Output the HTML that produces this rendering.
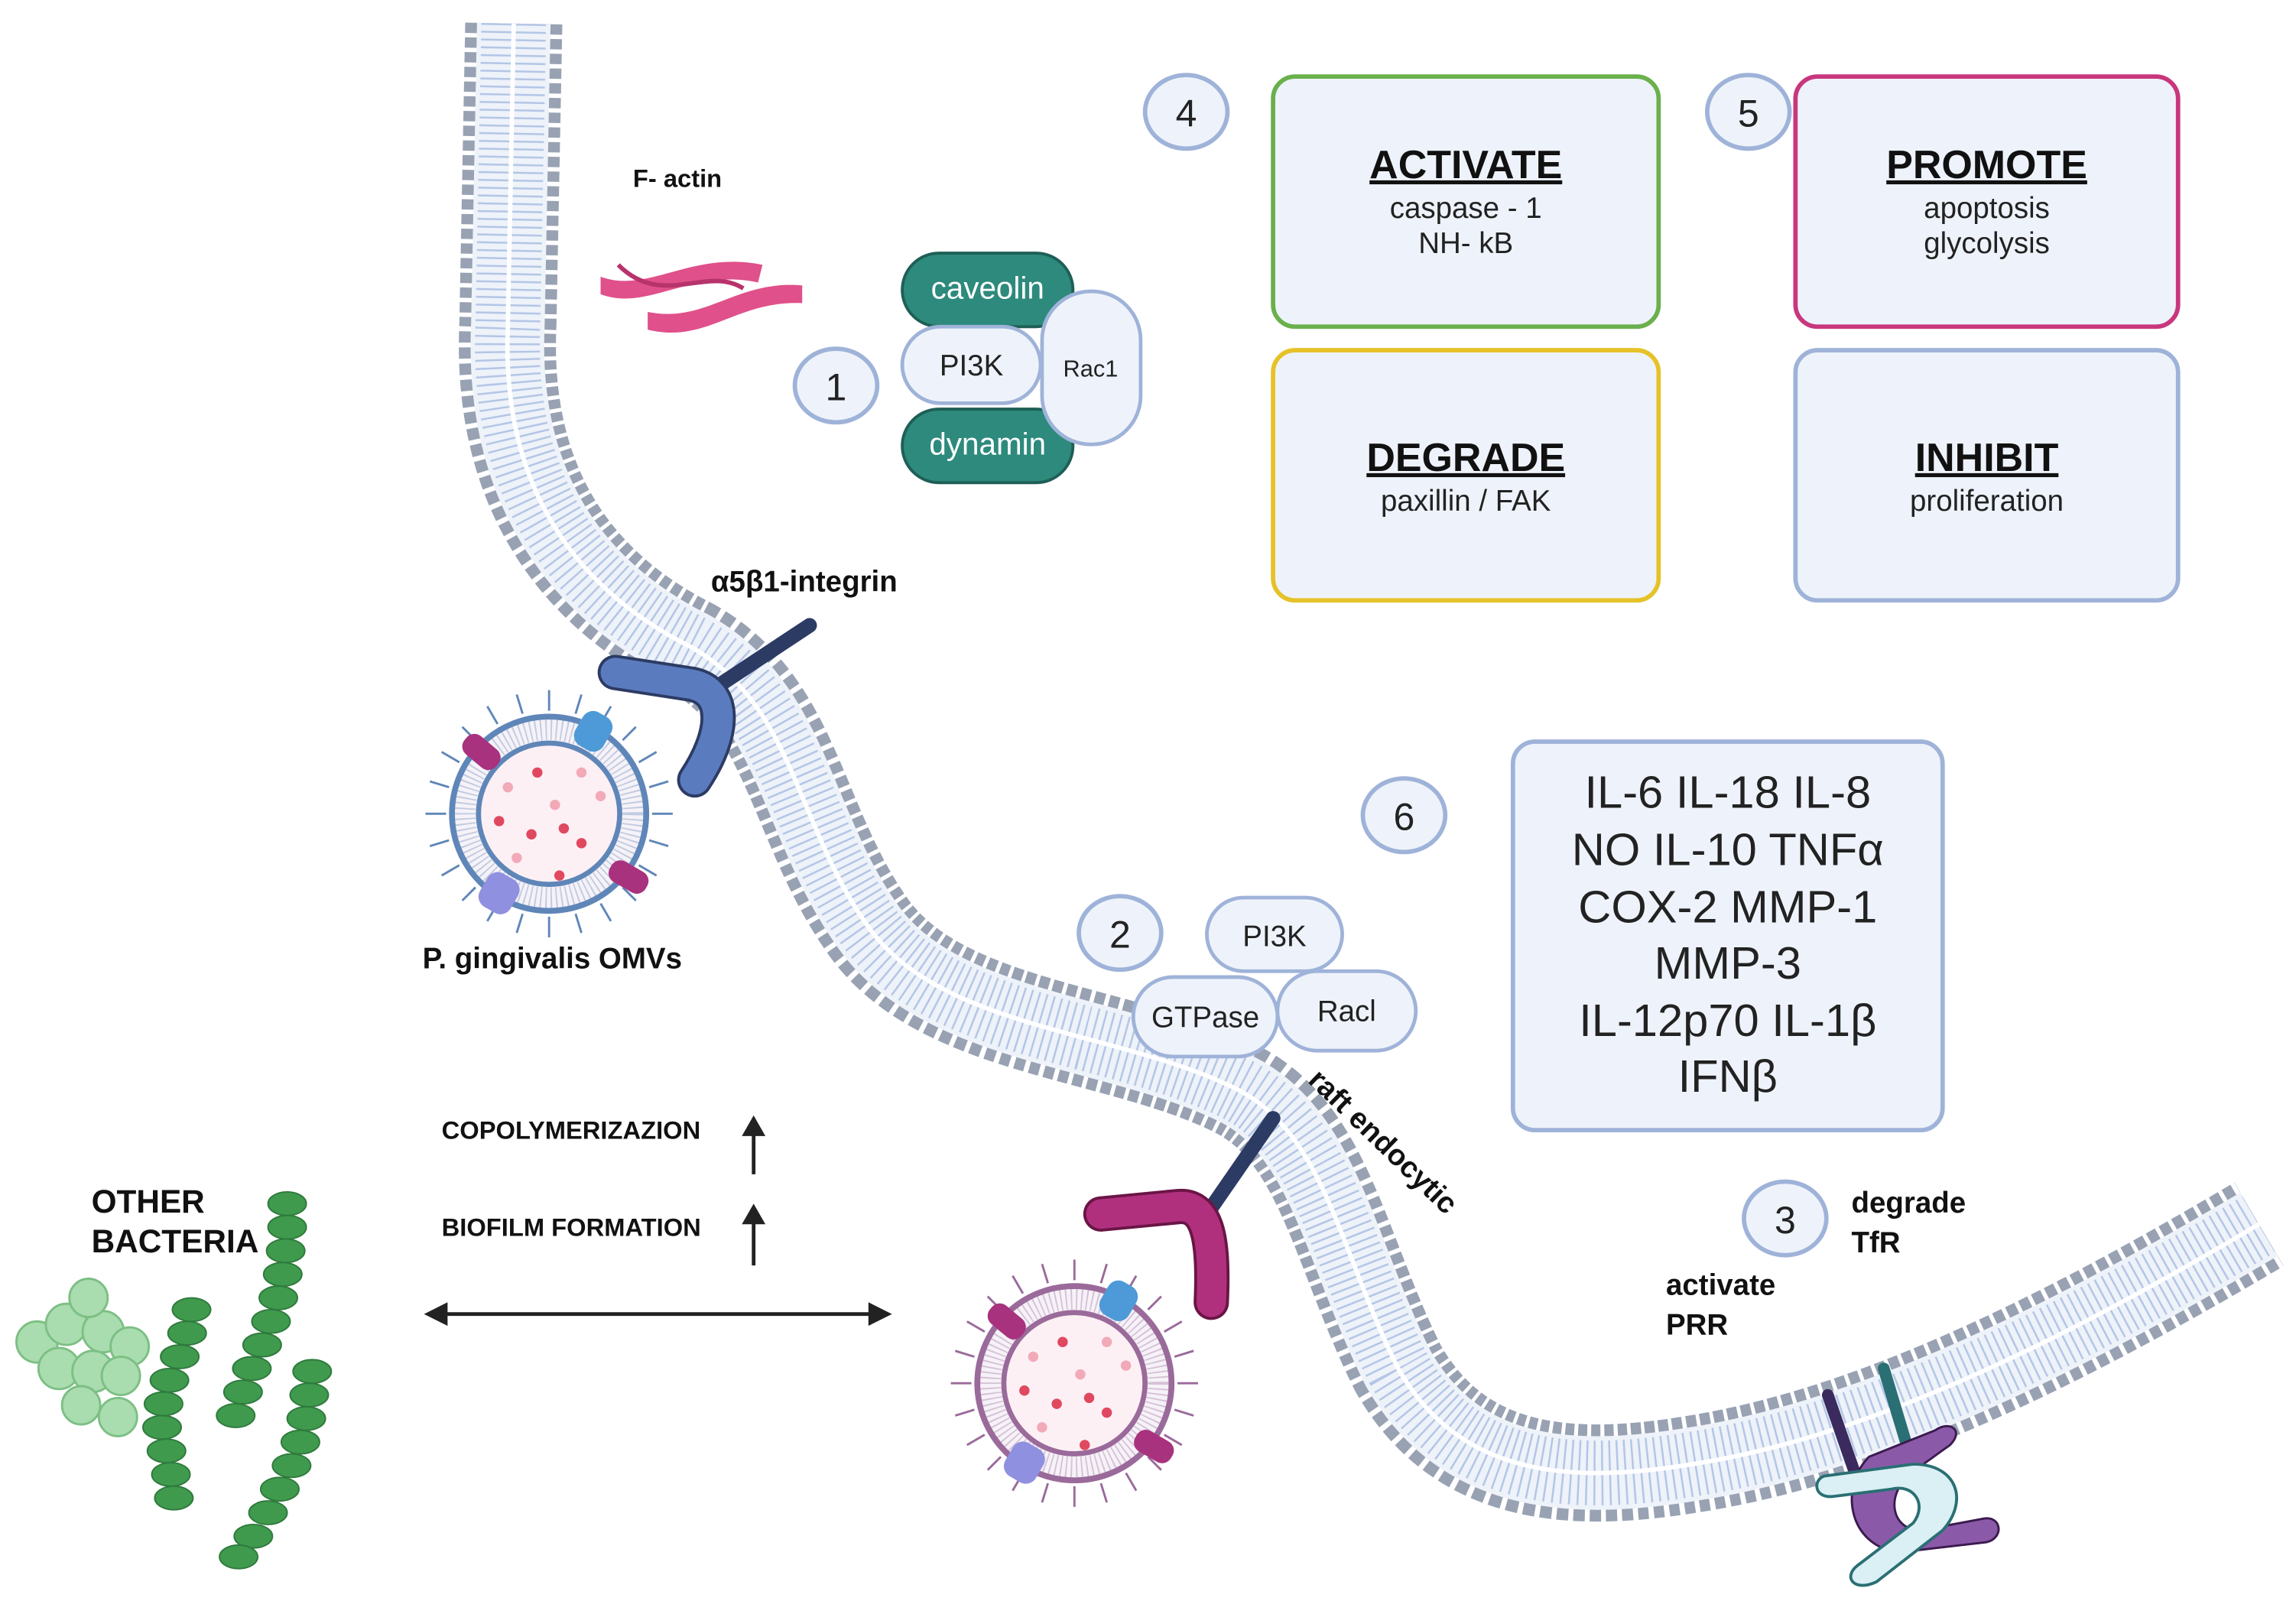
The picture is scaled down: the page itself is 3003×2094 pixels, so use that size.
<!DOCTYPE html>
<html><head><meta charset="utf-8"><style>
html,body{margin:0;padding:0;background:#fff}
svg{display:block}
text{font-family:"Liberation Sans",sans-serif}
.b{font-weight:bold;fill:#111}
</style></head><body>
<svg width="3003" height="2094" viewBox="0 0 1560 1088" xmlns="http://www.w3.org/2000/svg">
<defs>
<path id="mem" d="M349,16 L345,220 C340,330 390,400 470,440 C540,480 540,560 590,630 C640,700 760,700 840,740 C900,770 910,850 950,930 C990,1000 1060,1010 1150,995 C1280,975 1420,900 1535,832"/>
<symbol id="omv" viewBox="-90 -90 180 180" overflow="visible">
  <g stroke="currentColor" stroke-width="1.5" fill="none">
    <path d="M0,-70 L0,-84 M35,-61 L42,-73 M61,-35 L73,-42 M70,0 L84,0 M61,35 L73,42 M35,61 L42,73 M0,70 L0,84 M-35,61 L-42,73 M-61,35 L-73,42 M-70,0 L-84,0 M-61,-35 L-73,-42 M-35,-61 L-42,-73 M18,-68 L22,-81 M50,-50 L59,-59 M68,-18 L81,-22 M68,18 L81,22 M50,50 L59,59 M18,68 L22,81 M-18,68 L-22,81 M-50,50 L-59,59 M-68,18 L-81,22 M-68,-18 L-81,-22 M-50,-50 L-59,-59 M-18,-68 L-22,-81"/>
  </g>
  <circle r="66" fill="#f6f2f8" stroke="currentColor" stroke-width="4"/>
  <circle r="57" fill="none" stroke="currentColor" stroke-opacity=".35" stroke-width="14" stroke-dasharray="1 2.5"/>
  <circle r="48" fill="#fdf0f5" stroke="currentColor" stroke-width="3.5"/>
  <g fill="#e0485f"><circle cx="-8" cy="-28" r="3.5"/><circle cx="-34" cy="5" r="3.5"/><circle cx="-12" cy="14" r="3.5"/><circle cx="10" cy="10" r="3.5"/><circle cx="22" cy="20" r="3.5"/><circle cx="7" cy="42" r="3.5"/></g>
  <g fill="#f2a9b8"><circle cx="22" cy="-28" r="3.5"/><circle cx="-28" cy="-18" r="3.5"/><circle cx="4" cy="-6" r="3.5"/><circle cx="35" cy="-12" r="3.5"/><circle cx="-22" cy="30" r="3.5"/></g>
  <rect x="-14" y="-8" width="28" height="16" rx="7" fill="#a8327e" transform="translate(-46,-42) rotate(40)"/>
  <rect x="-14" y="-8" width="28" height="16" rx="7" fill="#a8327e" transform="translate(54,43) rotate(30)"/>
  <rect x="-13" y="-11" width="26" height="22" rx="8" fill="#4e9ad8" transform="translate(30,-56) rotate(-60)"/>
  <rect x="-13" y="-12" width="26" height="24" rx="8" fill="#9090e0" transform="translate(-34,54) rotate(-60)"/>
</symbol>
</defs>

<!-- membrane -->
<g fill="none" stroke-linecap="butt">
<use href="#mem" stroke="#98a2b3" stroke-width="66" stroke-dasharray="7 3"/>
<use href="#mem" stroke="#eef2f9" stroke-width="50"/>
<use href="#mem" stroke="#b3c6e6" stroke-width="44" stroke-dasharray="1.3 4"/>
<use href="#mem" stroke="#fff" stroke-width="3"/>
</g>

<!-- F-actin -->
<text x="430" y="127" class="b" font-size="17">F- actin</text>
<path d="M408,188 C440,200 470,170 518,180 L515,192 C470,182 440,212 408,200 Z" fill="#e0508a"/>
<path d="M440,212 C480,220 500,190 545,194 L545,206 C500,204 480,234 440,224 Z" fill="#e0508a"/>
<path d="M420,180 C450,210 480,180 505,196" stroke="#b7336b" stroke-width="3" fill="none"/>

<!-- group 1 -->
<rect x="613" y="172" width="116" height="50" rx="25" fill="#2d8a7c" stroke="#1e5f56" stroke-width="2"/>
<text x="671" y="203" text-anchor="middle" fill="#fff" font-size="21">caveolin</text>
<rect x="613" y="278" width="116" height="50" rx="25" fill="#2d8a7c" stroke="#1e5f56" stroke-width="2"/>
<text x="671" y="309" text-anchor="middle" fill="#fff" font-size="21">dynamin</text>
<rect x="613" y="222" width="94" height="52" rx="26" fill="#eef3fb" stroke="#9fb3d9" stroke-width="2.5"/>
<text x="660" y="255" text-anchor="middle" fill="#222" font-size="20">PI3K</text>
<rect x="708" y="198" width="67" height="104" rx="33" fill="#eef3fb" stroke="#9fb3d9" stroke-width="2.5"/>
<text x="741" y="256" text-anchor="middle" fill="#222" font-size="16">Rac1</text>

<!-- number circles -->
<g fill="#eef3fb" stroke="#9fb3d9" stroke-width="3">
<ellipse cx="806" cy="76" rx="28" ry="25"/><ellipse cx="1188" cy="76" rx="28" ry="25"/>
<ellipse cx="568" cy="262" rx="28" ry="25"/><ellipse cx="954" cy="554" rx="28" ry="25"/>
<ellipse cx="761" cy="634" rx="28" ry="25"/><ellipse cx="1213" cy="828" rx="28" ry="25"/>
</g>
<g font-size="26" text-anchor="middle" fill="#222">
<text x="806" y="86">4</text><text x="1188" y="86">5</text><text x="568" y="272">1</text>
<text x="954" y="564">6</text><text x="761" y="644">2</text><text x="1213" y="838">3</text>
</g>

<!-- boxes -->
<rect x="865" y="52" width="262" height="170" rx="15" fill="#eef3fb" stroke="#6ab04c" stroke-width="3"/>
<rect x="1220" y="52" width="260" height="170" rx="15" fill="#eef3fb" stroke="#c8377e" stroke-width="3"/>
<rect x="865" y="238" width="262" height="170" rx="15" fill="#eef3fb" stroke="#e6c229" stroke-width="3"/>
<rect x="1220" y="238" width="260" height="170" rx="15" fill="#eef3fb" stroke="#9fb3d9" stroke-width="3"/>
<g text-anchor="middle" fill="#222">
<text x="996" y="121" class="b" font-size="27" text-decoration="underline">ACTIVATE</text>
<text x="996" y="148" font-size="20">caspase - 1</text><text x="996" y="172" font-size="20">NH- kB</text>
<text x="1350" y="121" class="b" font-size="27" text-decoration="underline">PROMOTE</text>
<text x="1350" y="148" font-size="20">apoptosis</text><text x="1350" y="172" font-size="20">glycolysis</text>
<text x="996" y="320" class="b" font-size="27" text-decoration="underline">DEGRADE</text>
<text x="996" y="347" font-size="20">paxillin / FAK</text>
<text x="1350" y="320" class="b" font-size="27" text-decoration="underline">INHIBIT</text>
<text x="1350" y="347" font-size="20">proliferation</text>
</g>
<rect x="1028" y="504" width="292" height="264" rx="15" fill="#eef3fb" stroke="#9fb3d9" stroke-width="3"/>
<g text-anchor="middle" fill="#222" font-size="31">
<text x="1174" y="549">IL-6 IL-18 IL-8</text><text x="1174" y="588">NO IL-10 TNFα</text>
<text x="1174" y="627">COX-2 MMP-1</text><text x="1174" y="665">MMP-3</text>
<text x="1174" y="704">IL-12p70 IL-1β</text><text x="1174" y="742">IFNβ</text>
</g>

<!-- group 2 pills -->
<rect x="820" y="610" width="92" height="50" rx="25" fill="#eef3fb" stroke="#9fb3d9" stroke-width="2.5"/>
<text x="866" y="643" text-anchor="middle" fill="#222" font-size="20">PI3K</text>
<rect x="770" y="664" width="98" height="54" rx="27" fill="#eef3fb" stroke="#9fb3d9" stroke-width="2.5"/>
<text x="819" y="698" text-anchor="middle" fill="#222" font-size="20">GTPase</text>
<rect x="868" y="660" width="94" height="54" rx="27" fill="#eef3fb" stroke="#9fb3d9" stroke-width="2.5"/>
<text x="915" y="694" text-anchor="middle" fill="#222" font-size="20">Racl</text>

<!-- integrin 1 -->
<text x="483" y="402" class="b" font-size="20">α5β1-integrin</text>
<use href="#omv" x="283" y="463" width="180" height="180" color="#5f86b8"/>
<line x1="550" y1="425" x2="482" y2="470" stroke="#2c3b63" stroke-width="10" stroke-linecap="round"/>
<path d="M418,457 L470,465 C495,470 492,500 472,530" stroke="#2c3b63" stroke-width="24" fill="none" stroke-linecap="round"/>
<path d="M418,457 L470,465 C495,470 492,500 472,530" stroke="#5b7bbf" stroke-width="20" fill="none" stroke-linecap="round"/>
<text x="287" y="658" class="b" font-size="20">P. gingivalis OMVs</text>

<!-- integrin 2 -->
<use href="#omv" x="640" y="850" width="180" height="180" color="#9a6a9a"/>
<line x1="865" y1="760" x2="818" y2="828" stroke="#2c3b63" stroke-width="10" stroke-linecap="round"/>
<path d="M748,825 L800,820 C820,818 825,840 823,885" stroke="#6a1545" stroke-width="24" fill="none" stroke-linecap="round"/>
<path d="M748,825 L800,820 C820,818 825,840 823,885" stroke="#b0307e" stroke-width="20" fill="none" stroke-linecap="round"/>
<text x="888" y="735" class="b" font-size="20" transform="rotate(44 888 735)">raft endocytic</text>

<!-- receptor 3 -->
<line x1="1242" y1="948" x2="1260" y2="1000" stroke="#3b2a5e" stroke-width="8" stroke-linecap="round"/>
<line x1="1280" y1="930" x2="1298" y2="990" stroke="#2a6f74" stroke-width="8" stroke-linecap="round"/>
<path d="M1270,990 C1250,1010 1255,1050 1290,1055 L1350,1048 C1362,1045 1360,1030 1348,1032 L1305,1040 C1285,1040 1280,1015 1300,1000 L1325,982 C1335,972 1325,965 1315,972 Z" fill="#8a5aa8" stroke="#3b1a4e" stroke-width="1.5"/>
<path d="M1240,1003 L1300,995 C1330,995 1338,1020 1320,1040 L1275,1075 C1260,1082 1252,1072 1262,1064 L1300,1035 C1310,1022 1300,1008 1285,1012 L1245,1017 C1232,1018 1232,1005 1240,1003 Z" fill="#daf0f5" stroke="#2a6f74" stroke-width="2"/>
<text x="1258" y="824" class="b" font-size="20">degrade</text>
<text x="1258" y="851" class="b" font-size="20">TfR</text>
<text x="1132" y="880" class="b" font-size="20">activate</text>
<text x="1132" y="907" class="b" font-size="20">PRR</text>

<!-- arrows/labels -->
<text x="300" y="774" class="b" font-size="17">COPOLYMERIZAZION</text>
<text x="300" y="840" class="b" font-size="17">BIOFILM FORMATION</text>
<g stroke="#222" stroke-width="2.5"><line x1="512" y1="798" x2="512" y2="770"/><line x1="512" y1="860" x2="512" y2="830"/><line x1="300" y1="893" x2="594" y2="893"/></g>
<g fill="#222"><path d="M504,772 L512,758 L520,772Z"/><path d="M504,832 L512,818 L520,832Z"/><path d="M288,893 L304,885 L304,901Z"/><path d="M606,893 L590,885 L590,901Z"/></g>
<text x="62" y="824" class="b" font-size="22">OTHER</text>
<text x="62" y="851" class="b" font-size="22">BACTERIA</text>

<!-- bacteria -->
<g fill="#a9dcae" stroke="#7cbf84" stroke-width="1.5">
<circle cx="25" cy="912" r="14"/><circle cx="45" cy="900" r="14"/><circle cx="70" cy="905" r="14"/><circle cx="88" cy="915" r="13"/>
<circle cx="60" cy="882" r="13"/><circle cx="40" cy="930" r="14"/><circle cx="63" cy="932" r="14"/><circle cx="82" cy="935" r="13"/>
<circle cx="55" cy="955" r="13"/><circle cx="80" cy="963" r="13"/>
</g>
<g fill="#3f9a4e" stroke="#2f7a3c" stroke-width="1">
<ellipse cx="195" cy="818" rx="13" ry="8"/><ellipse cx="195" cy="834" rx="13" ry="8"/><ellipse cx="194" cy="850" rx="13" ry="8"/><ellipse cx="192" cy="866" rx="13" ry="8"/><ellipse cx="189" cy="882" rx="13" ry="8"/><ellipse cx="184" cy="898" rx="13" ry="8"/><ellipse cx="178" cy="914" rx="13" ry="8"/><ellipse cx="171" cy="930" rx="13" ry="8"/><ellipse cx="165" cy="946" rx="13" ry="8"/><ellipse cx="160" cy="962" rx="13" ry="8"/>
<ellipse cx="130" cy="890" rx="13" ry="8"/><ellipse cx="127" cy="906" rx="13" ry="8"/><ellipse cx="122" cy="922" rx="13" ry="8"/><ellipse cx="115" cy="938" rx="13" ry="8"/><ellipse cx="111" cy="954" rx="13" ry="8"/><ellipse cx="110" cy="970" rx="13" ry="8"/><ellipse cx="113" cy="986" rx="13" ry="8"/><ellipse cx="116" cy="1002" rx="13" ry="8"/><ellipse cx="118" cy="1018" rx="13" ry="8"/>
<ellipse cx="212" cy="932" rx="13" ry="8"/><ellipse cx="210" cy="948" rx="13" ry="8"/><ellipse cx="208" cy="964" rx="13" ry="8"/><ellipse cx="204" cy="980" rx="13" ry="8"/><ellipse cx="198" cy="996" rx="13" ry="8"/><ellipse cx="190" cy="1012" rx="13" ry="8"/><ellipse cx="182" cy="1028" rx="13" ry="8"/><ellipse cx="172" cy="1044" rx="13" ry="8"/><ellipse cx="162" cy="1058" rx="13" ry="8"/>
</g>
</svg>
</body></html>
